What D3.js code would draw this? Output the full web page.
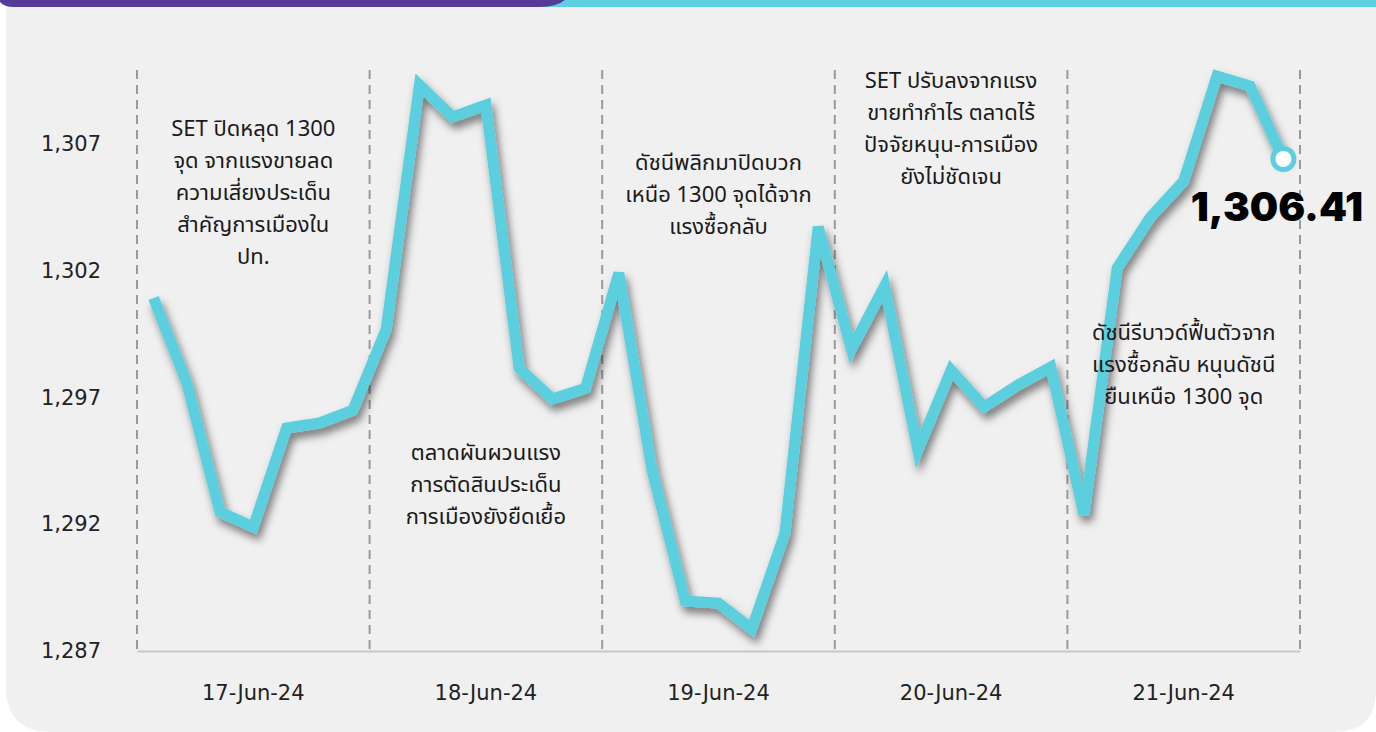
<!DOCTYPE html>
<html>
<head>
<meta charset="utf-8">
<script src="https://cdn.jsdelivr.net/npm/d3@7"></script>
<style>
  body { margin: 0; background: #fff; }
  svg { display: block; }
  .tick text { font-family: "DejaVu Sans", "Noto Sans", sans-serif; }
</style>
</head>
<body>
<div id="chart"></div>
<script>
var days = ["17-Jun-24", "18-Jun-24", "19-Jun-24", "20-Jun-24", "21-Jun-24"];
var yTicks = [1287, 1292, 1297, 1302, 1307];
// 7 readings per day
var setIndex = [
  1300.93, 1297.57, 1292.48, 1291.89, 1295.80, 1296.00, 1296.50,
  1299.70, 1309.33, 1308.07, 1308.54, 1298.16, 1296.94, 1297.37,
  1301.91, 1294.14, 1288.97, 1288.89, 1287.87, 1291.65, 1303.73,
  1298.91, 1301.40, 1294.93, 1298.08, 1296.63, 1297.49, 1298.20,
  1292.37, 1302.11, 1304.12, 1305.54, 1309.68, 1309.29, 1306.41
];
var notes = [
  ["SET ปิดหลุด 1300", "จุด จากแรงขายลด", "ความเสี่ยงประเด็น", "สำคัญการเมืองใน", "ปท."],
  ["ตลาดผันผวนแรง", "การตัดสินประเด็น", "การเมืองยังยืดเยื้อ"],
  ["ดัชนีพลิกมาปิดบวก", "เหนือ 1300 จุดได้จาก", "แรงซื้อกลับ"],
  ["SET ปรับลงจากแรง", "ขายทำกำไร ตลาดไร้", "ปัจจัยหนุน-การเมือง", "ยังไม่ชัดเจน"],
  ["ดัชนีรีบาวด์ฟื้นตัวจาก", "แรงซื้อกลับ หนุนดัชนี", "ยืนเหนือ 1300 จุด"]
];
var noteTop = [128, 452, 162, 80, 332];
var perDay = 7;

function draw() {
  var W = 1376, H = 732;
  var mLeft = 137, mRight = 1300, mBottom = 651, mTop = 68;
  var thaiFont = '"Noto Sans Thai", "Noto Sans", sans-serif';

  var svg = d3.select("#chart").append("svg").attr("width", W).attr("height", H);

  var defs = svg.append("defs");
  var f = defs.append("filter").attr("id", "shadow")
    .attr("x", "-10%").attr("y", "-10%").attr("width", "120%").attr("height", "120%");
  f.append("feDropShadow").attr("dx", 3).attr("dy", 6).attr("stdDeviation", 4)
    .attr("flood-color", "#000").attr("flood-opacity", 0.5);

  // panel background
  svg.append("path")
    .attr("d", "M6,0 H1376 V690 Q1376,732 1334,732 H52 Q6,732 6,686 Z")
    .attr("fill", "#f0f0f0");
  // top bar
  svg.append("rect").attr("x", 540).attr("y", 0).attr("width", 836).attr("height", 7).attr("fill", "#5ecfdf");
  svg.append("path").attr("d", "M0,0 H565 Q556,7 540,7 H14 Q4,7 0,2 Z").attr("fill", "#563a97");

  var x = d3.scaleBand().domain(days).range([mLeft, mRight]);
  var xi = d3.scaleLinear().domain([-0.5, days.length * perDay - 0.5]).range([mLeft, mRight]);
  var y = d3.scaleLinear().domain([1287, 1310]).range([mBottom, mTop]);

  // dashed day separators
  var bounds = days.map(function(d) { return x(d); }).concat([mRight]);
  svg.selectAll(".sep").data(bounds).enter().append("line")
    .attr("class", "sep")
    .attr("x1", function(d) { return d; }).attr("x2", function(d) { return d; })
    .attr("y1", mTop + 2).attr("y2", mBottom)
    .attr("stroke", "#9a9a9a").attr("stroke-width", 2).attr("stroke-dasharray", "9,6");

  // x axis
  var xAxis = svg.append("g").attr("transform", "translate(0," + mBottom + ")")
    .call(d3.axisBottom(x).tickSize(0).tickPadding(34));
  xAxis.select(".domain").attr("stroke", "#c8c8c8").attr("stroke-width", 2);
  xAxis.selectAll("text").attr("font-size", 21).attr("fill", "#222");

  // y axis
  var yAxis = svg.append("g").attr("transform", "translate(101,0)")
    .call(d3.axisLeft(y).tickValues(yTicks).tickSize(0).tickPadding(0).tickFormat(d3.format(",")));
  yAxis.select(".domain").remove();
  yAxis.selectAll("text").attr("font-size", 21).attr("fill", "#222");

  // line
  var line = d3.line()
    .x(function(d, i) { return xi(i); })
    .y(function(d) { return y(d); });
  svg.append("path").datum(setIndex)
    .attr("d", line)
    .attr("fill", "none")
    .attr("stroke", "#5ccfdf")
    .attr("stroke-width", 11)
    .attr("stroke-linejoin", "miter")
    .attr("filter", "url(#shadow)");

  var last = setIndex.length - 1;
  svg.append("circle")
    .attr("cx", xi(last)).attr("cy", y(setIndex[last]))
    .attr("r", 13).attr("fill", "#5ccfdf");
  svg.append("circle")
    .attr("cx", xi(last)).attr("cy", y(setIndex[last]))
    .attr("r", 8).attr("fill", "#fff");

  // annotations
  notes.forEach(function(lines, i) {
    var cx = x(days[i]) + x.bandwidth() / 2;
    var t = svg.append("text")
      .attr("x", cx)
      .attr("y", noteTop[i])
      .attr("text-anchor", "middle")
      .attr("font-family", thaiFont)
      .attr("font-size", 22)
      .attr("fill", "#1a1a1a");
    lines.forEach(function(l, j) {
      t.append("tspan").attr("x", cx)
        .attr("dy", j === 0 ? "0.35em" : 32).text(l);
    });
  });

  svg.append("text")
    .attr("x", 1363).attr("y", y(setIndex[last]) + 62)
    .attr("text-anchor", "end")
    .attr("font-family", "Inter, 'Noto Sans', sans-serif")
    .attr("font-weight", 900)
    .attr("font-size", 40)
    .attr("fill", "#000")
    .text(d3.format(",.2f")(setIndex[last]));
}

draw();
</script>
</body>
</html>
